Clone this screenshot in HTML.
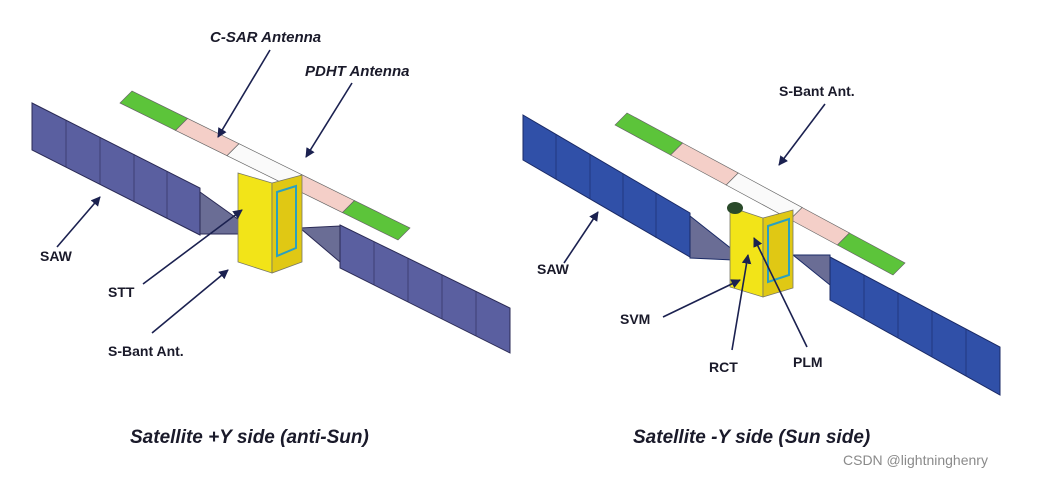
<!DOCTYPE html>
<html><head><meta charset="utf-8"><style>
html,body{margin:0;padding:0;background:#fff;width:1048px;height:479px;overflow:hidden}
svg{display:block}
text{font-family:"Liberation Sans",sans-serif;font-weight:bold;fill:#1a1a2a}
</style></head><body>
<svg width="1048" height="479" viewBox="0 0 1048 479">
<defs>
<marker id="ah" viewBox="0 0 10 10" refX="9" refY="5" markerWidth="6" markerHeight="6" orient="auto"><path d="M0,0 L10,5 L0,10 z" fill="#1b2150"/></marker>
</defs>
<!-- LEFT SATELLITE -->
<g stroke="#2a2a55" stroke-width="1">
<polygon points="32,103 200,188 200,235 32,150" fill="#5a5fa0"/>
<polygon points="200,192 242,222 242,234 200,234" fill="#6a6d95"/>
<polygon points="340,225 510,308 510,353 340,268" fill="#5a5fa0"/>
<polygon points="300,228 340,226 340,262" fill="#6a6d95"/>
</g>
<g stroke="#2a2a55" stroke-width="0.6">
<line x1="66" y1="120" x2="66" y2="167"/><line x1="100" y1="137" x2="100" y2="184"/><line x1="134" y1="154" x2="134" y2="201"/><line x1="167" y1="171" x2="167" y2="218"/>
<line x1="374" y1="242" x2="374" y2="285"/><line x1="408" y1="258" x2="408" y2="302"/><line x1="442" y1="275" x2="442" y2="319"/><line x1="476" y1="291" x2="476" y2="336"/>
</g>
<g stroke="#666" stroke-width="0.7">
<polygon points="120,103 175.6,130.4 187.6,118.4 132,91" fill="#5cc43a"/>
<polygon points="175.6,130.4 227,155.7 239,143.7 187.6,118.4" fill="#f4cfc8"/>
<polygon points="227,155.7 289.6,186.6 301.6,174.6 239,143.7" fill="#fafafa"/>
<polygon points="289.6,186.6 342.4,212.6 354.4,200.6 301.6,174.6" fill="#f4cfc8"/>
<polygon points="342.4,212.6 398,240 410,228 354.4,200.6" fill="#5cc43a"/>
</g>
<polygon points="238,173 272,183 272,273 238,262" fill="#f2e418" stroke="#776" stroke-width="0.8"/>
<polygon points="272,183 302,175 302,262 272,273" fill="#e0c814" stroke="#776" stroke-width="0.8"/>
<polygon points="277,192 296,186 296,248 277,256" fill="none" stroke="#2aa0c0" stroke-width="2"/>
<!-- labels left -->
<g stroke="#1b2150" stroke-width="1.6" fill="none" marker-end="url(#ah)">
<line x1="270" y1="50" x2="218" y2="137"/>
<line x1="352" y1="83" x2="306" y2="157"/>
<line x1="57" y1="247" x2="100" y2="197"/>
<line x1="143" y1="284" x2="242" y2="210"/>
<line x1="152" y1="333" x2="228" y2="270"/>
</g>
<text x="210" y="42" font-size="15" font-style="italic">C-SAR Antenna</text>
<text x="305" y="76" font-size="15" font-style="italic">PDHT Antenna</text>
<text x="40" y="261" font-size="14">SAW</text>
<text x="108" y="297" font-size="14">STT</text>
<text x="108" y="356" font-size="14">S-Bant Ant.</text>
<text x="130" y="443" font-size="19" font-style="italic">Satellite +Y side (anti-Sun)</text>

<!-- RIGHT SATELLITE -->
<g stroke="#1a2a66" stroke-width="1">
<polygon points="523,115 690,213 690,257 523,160" fill="#3050a8"/>
<polygon points="690,216 733,250 733,260 690,258" fill="#6a6d95"/>
<polygon points="830,257 1000,347 1000,395 830,300" fill="#3050a8"/>
<polygon points="793,255 830,255 830,285" fill="#6a6d95"/>
</g>
<g stroke="#1a2a66" stroke-width="0.6">
<line x1="556" y1="134" x2="556" y2="179"/><line x1="590" y1="154" x2="590" y2="199"/><line x1="623" y1="174" x2="623" y2="218"/><line x1="656" y1="193" x2="656" y2="238"/>
<line x1="864" y1="275" x2="864" y2="318"/><line x1="898" y1="293" x2="898" y2="337"/><line x1="932" y1="311" x2="932" y2="356"/><line x1="966" y1="329" x2="966" y2="376"/>
</g>
<g stroke="#666" stroke-width="0.7">
<polygon points="615,125 670.6,155 682.6,143 627,113" fill="#5cc43a"/>
<polygon points="670.6,155 726.2,185 738.2,173 682.6,143" fill="#f4cfc8"/>
<polygon points="726.2,185 790.1,219.5 802.1,207.5 738.2,173" fill="#fafafa"/>
<polygon points="790.1,219.5 837.4,245 849.4,233 802.1,207.5" fill="#f4cfc8"/>
<polygon points="837.4,245 893,275 905,263 849.4,233" fill="#5cc43a"/>
</g>
<polygon points="730,207 763,218 763,297 730,287" fill="#f2e418" stroke="#776" stroke-width="0.8"/>
<polygon points="763,218 793,210 793,288 763,297" fill="#e0c814" stroke="#776" stroke-width="0.8"/>
<polygon points="768,226 789,219 789,275 768,282" fill="none" stroke="#2aa0c0" stroke-width="2"/>
<ellipse cx="735" cy="208" rx="8" ry="6" fill="#2a4a2a"/>
<g stroke="#1b2150" stroke-width="1.6" fill="none" marker-end="url(#ah)">
<line x1="825" y1="104" x2="779" y2="165"/>
<line x1="564" y1="263" x2="598" y2="212"/>
<line x1="663" y1="317" x2="740" y2="280"/>
<line x1="732" y1="350" x2="748" y2="255"/>
<line x1="807" y1="347" x2="754" y2="238"/>
</g>
<text x="779" y="96" font-size="14">S-Bant Ant.</text>
<text x="537" y="274" font-size="14">SAW</text>
<text x="620" y="324" font-size="14">SVM</text>
<text x="709" y="372" font-size="14">RCT</text>
<text x="793" y="367" font-size="14">PLM</text>
<text x="633" y="443" font-size="19" font-style="italic">Satellite -Y side (Sun side)</text>
<text x="843" y="465" font-size="14" style="font-weight:normal;fill:#8a8a8a">CSDN @lightninghenry</text>
</svg>
</body></html>
